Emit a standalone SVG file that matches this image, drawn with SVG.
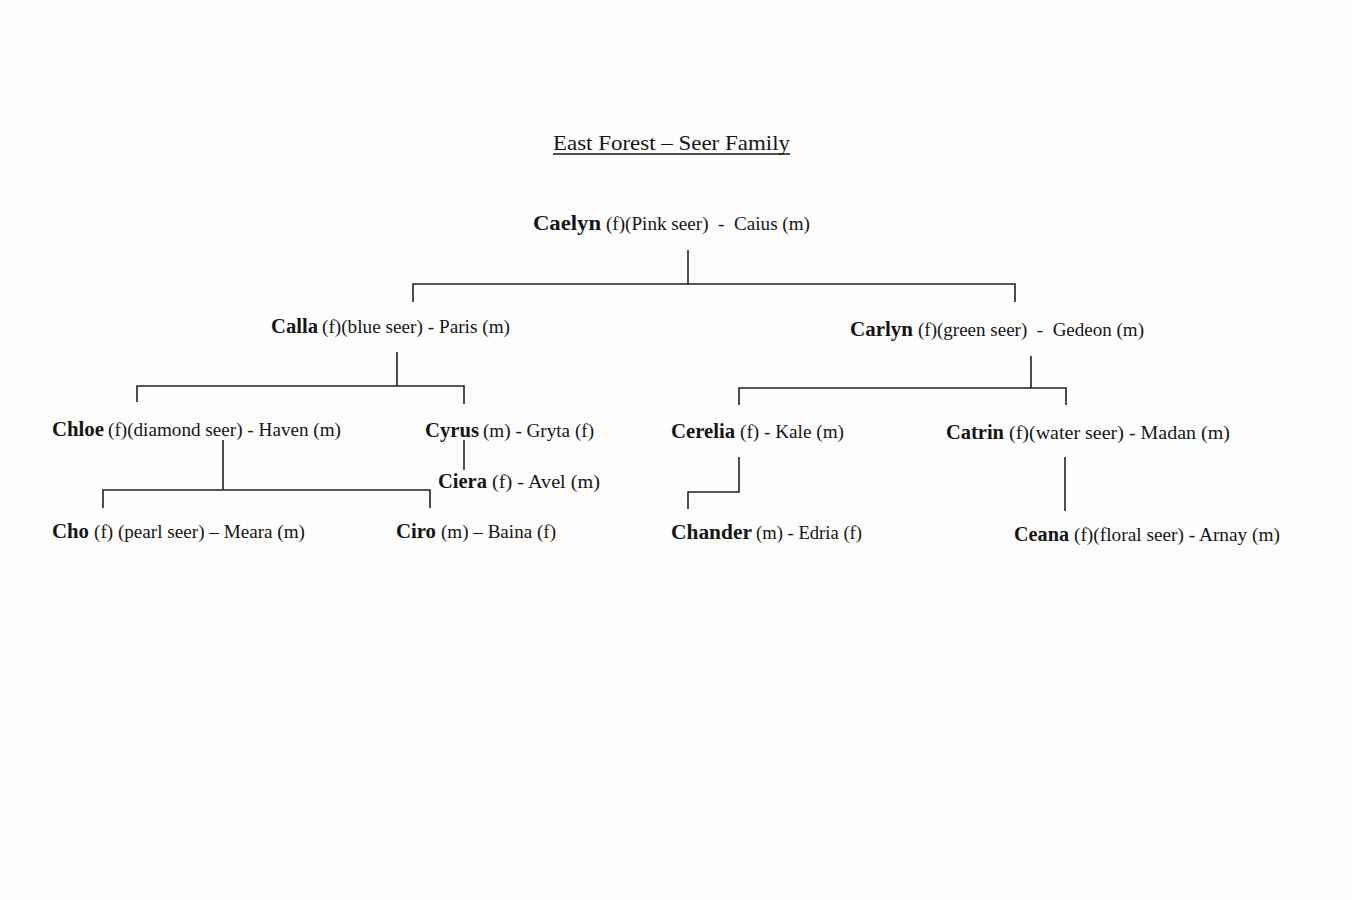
<svg xmlns="http://www.w3.org/2000/svg" width="1352" height="900" viewBox="0 0 1352 900">
<style>
text{white-space:pre}
.b{font-family:"Liberation Serif","Times New Roman",serif;font-weight:bold;font-size:20px;fill:#151515}
.r{font-family:"Liberation Serif","Times New Roman",serif;font-size:18px;fill:#151515}
.t{font-family:"Liberation Serif","Times New Roman",serif;font-size:21px;fill:#151515}
.c{stroke:#222;stroke-width:1.6;fill:none}
</style>
<rect width="1352" height="900" fill="#fdfdfd"/>
<g id="title">
<text class="t" x="553" y="150" textLength="237" lengthAdjust="spacingAndGlyphs">East Forest – Seer Family</text>
<line x1="553" y1="154" x2="790" y2="154" stroke="#151515" stroke-width="1.3"/>
</g>
<g id="connectors" class="c">
<path d="M688 250V284M413 302V284H1015V302"/>
<path d="M397 352V386M137 402V386H464V404"/>
<path d="M1031 356V388M739 405V388H1066V405"/>
<path d="M223 440V490M103 508V490H430V508"/>
<path d="M464 440V470"/>
<path d="M739 457V492H688V509"/>
<path d="M1065 457V511"/>
</g>
<g id="caelyn"><text class="b" x="533" y="230" textLength="68" lengthAdjust="spacingAndGlyphs">Caelyn</text><text class="r" x="606" y="230" textLength="204" lengthAdjust="spacingAndGlyphs" xml:space="preserve">(f)(Pink seer)  -  Caius (m)</text></g>
<g id="calla"><text class="b" x="271" y="333" textLength="47" lengthAdjust="spacingAndGlyphs">Calla</text><text class="r" x="322" y="333" textLength="188" lengthAdjust="spacingAndGlyphs">(f)(blue seer) - Paris (m)</text></g>
<g id="carlyn"><text class="b" x="850" y="336" textLength="63" lengthAdjust="spacingAndGlyphs">Carlyn</text><text class="r" x="918" y="336" textLength="226" lengthAdjust="spacingAndGlyphs" xml:space="preserve">(f)(green seer)  -  Gedeon (m)</text></g>
<g id="chloe"><text class="b" x="52" y="436" textLength="52" lengthAdjust="spacingAndGlyphs">Chloe</text><text class="r" x="108" y="436" textLength="233" lengthAdjust="spacingAndGlyphs">(f)(diamond seer) - Haven (m)</text></g>
<g id="cyrus"><text class="b" x="425" y="437" textLength="54" lengthAdjust="spacingAndGlyphs">Cyrus</text><text class="r" x="483" y="437" textLength="111" lengthAdjust="spacingAndGlyphs">(m) - Gryta (f)</text></g>
<g id="ciera"><text class="b" x="438" y="488" textLength="49" lengthAdjust="spacingAndGlyphs">Ciera</text><text class="r" x="492" y="488" textLength="108" lengthAdjust="spacingAndGlyphs">(f) - Avel (m)</text></g>
<g id="cho"><text class="b" x="52" y="538" textLength="37" lengthAdjust="spacingAndGlyphs">Cho</text><text class="r" x="94" y="538" textLength="211" lengthAdjust="spacingAndGlyphs">(f) (pearl seer) – Meara (m)</text></g>
<g id="ciro"><text class="b" x="396" y="538" textLength="40" lengthAdjust="spacingAndGlyphs">Ciro</text><text class="r" x="441" y="538" textLength="115" lengthAdjust="spacingAndGlyphs">(m) – Baina (f)</text></g>
<g id="cerelia"><text class="b" x="671" y="438" textLength="64" lengthAdjust="spacingAndGlyphs">Cerelia</text><text class="r" x="740" y="438" textLength="104" lengthAdjust="spacingAndGlyphs">(f) - Kale (m)</text></g>
<g id="catrin"><text class="b" x="946" y="439" textLength="58" lengthAdjust="spacingAndGlyphs">Catrin</text><text class="r" x="1009" y="439" textLength="221" lengthAdjust="spacingAndGlyphs">(f)(water seer) - Madan (m)</text></g>
<g id="chander"><text class="b" x="671" y="539" textLength="81" lengthAdjust="spacingAndGlyphs">Chander</text><text class="r" x="756" y="539" textLength="106" lengthAdjust="spacingAndGlyphs">(m) - Edria (f)</text></g>
<g id="ceana"><text class="b" x="1014" y="541" textLength="55" lengthAdjust="spacingAndGlyphs">Ceana</text><text class="r" x="1074" y="541" textLength="206" lengthAdjust="spacingAndGlyphs">(f)(floral seer) - Arnay (m)</text></g>
</svg>
